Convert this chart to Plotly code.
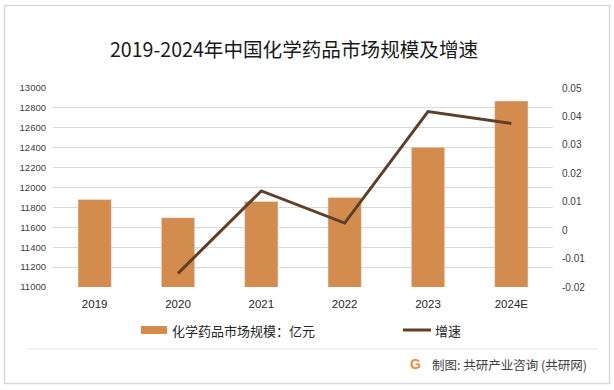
import plotly.graph_objects as go

years = ["2019", "2020", "2021", "2022", "2023", "2024E"]
market_size = [11880, 11697, 11859, 11899, 12404, 12869]
growth = [None, -0.0152, 0.0138, 0.0025, 0.0417, 0.0375]
left_ticks = [11000, 11200, 11400, 11600, 11800, 12000, 12200, 12400, 12600, 12800, 13000]
left_labels = ["11000", "11200", "11400", "11600", "11800", "12000", "12200", "12400", "12600", "12800", "13000"]
right_ticks = [-0.02, -0.01, 0, 0.01, 0.02, 0.03, 0.04, 0.05]
right_labels = ["-0.02", "-0.01", "0", "0.01", "0.02", "0.03", "0.04", "0.05"]

BAR_COLOR = "#D38B4E"
LINE_COLOR = "#5E3F28"
GRID = "#D9D9D9"
CJK = "Noto Sans CJK SC"
NUM = "Liberation Sans, Noto Sans CJK SC"

W, H = 614, 390
L, R, T, B = 53, 553, 88, 287
PW, PH = R - L, B - T


def xp(px):
    return (px - L) / PW


def yp(py):
    return (B - py) / PH


fig = go.Figure()
fig.add_trace(go.Bar(x=years, y=market_size, marker_color=BAR_COLOR, name="化学药品市场规模：亿元",
                     showlegend=False))
fig.add_trace(go.Scatter(x=years, y=growth, yaxis="y2", mode="lines", name="增速",
                         line=dict(color=LINE_COLOR, width=3), showlegend=False))

shapes = [
    dict(type="rect", xref="paper", yref="paper", x0=xp(4.5), x1=xp(609.5), y0=yp(5.5), y1=yp(383.5),
         line=dict(color="#D9D9D9", width=1.5), fillcolor="rgba(0,0,0,0)", layer="below"),
    dict(type="line", xref="paper", yref="paper", x0=xp(27), x1=xp(598), y0=yp(349), y1=yp(349),
         line=dict(color="#E3E3E3", width=1)),
    dict(type="rect", xref="paper", yref="paper", x0=xp(141), x1=xp(167), y0=yp(326), y1=yp(334),
         line=dict(width=0), fillcolor=BAR_COLOR),
    dict(type="line", xref="paper", yref="paper", x0=xp(403), x1=xp(431), y0=yp(330), y1=yp(330),
         line=dict(color=LINE_COLOR, width=3)),
]

annotations = [
    dict(text="2019-2024年中国化学药品市场规模及增速", xref="paper", yref="paper", x=xp(294), y=yp(48),
         showarrow=False, font=dict(family=CJK, size=19.6, color="#1A1A1A"), xanchor="center", yanchor="middle"),
    dict(text="化学药品市场规模：亿元", xref="paper", yref="paper", x=xp(170), y=yp(330),
         showarrow=False, font=dict(family=CJK, size=13, color="#262626"), xanchor="left", yanchor="middle"),
    dict(text="增速", xref="paper", yref="paper", x=xp(433), y=yp(330),
         showarrow=False, font=dict(family=CJK, size=13, color="#262626"), xanchor="left", yanchor="middle"),
    dict(text="制图: 共研产业咨询 (共研网)", xref="paper", yref="paper", x=xp(430), y=yp(364),
         showarrow=False, font=dict(family=CJK, size=12.5, color="#404040"), xanchor="left", yanchor="middle"),
    dict(text="<b>G</b>", xref="paper", yref="paper", x=xp(415), y=yp(364),
         showarrow=False, font=dict(family="Liberation Sans", size=14, color="#F08A3C"),
         xanchor="center", yanchor="middle"),
]

fig.update_layout(
    width=W, height=H,
    margin=dict(l=L, r=W - R, t=T, b=H - B, autoexpand=False),
    paper_bgcolor="white", plot_bgcolor="white",
    bargap=0.6,
    showlegend=False,
    xaxis=dict(type="category", categoryorder="array", categoryarray=years, showgrid=False,
               showline=False, ticks="", ticklabelstandoff=8,
               tickfont=dict(family=NUM, size=11.5, color="#262626")),
    yaxis=dict(range=[11000, 13000], tickvals=left_ticks, ticktext=left_labels, showgrid=True,
               gridcolor=GRID, gridwidth=1,
               zeroline=False, showline=False, ticks="", ticklabelstandoff=6,
               tickfont=dict(family=NUM, size=9.5, color="#404040")),
    yaxis2=dict(range=[-0.02, 0.05], overlaying="y", side="right", tickvals=right_ticks, ticktext=right_labels,
                showgrid=False, zeroline=False, showline=False, ticks="", ticklabelstandoff=8,
                tickfont=dict(family=NUM, size=10, color="#404040")),
    shapes=shapes,
    annotations=annotations,
)

fig.write_html("out.html", config={"displayModeBar": False},
               post_script="document.body.style.margin='0';document.body.style.padding='0';"
                           "document.body.style.overflow='hidden';")
